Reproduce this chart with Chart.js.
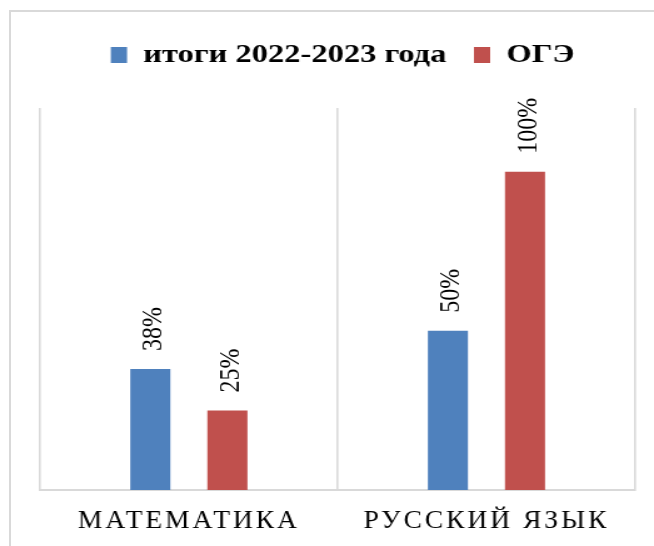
<!DOCTYPE html>
<html>
<head>
<meta charset="utf-8">
<script src="https://cdn.jsdelivr.net/npm/chart.js@4"></script>
<style>
  html, body { margin: 0; padding: 0; background: #fff; overflow: hidden; }
  #wrap { position: relative; width: 654px; height: 546px; }
  #frame { position: absolute; left: 9px; top: 10px; width: 700px; height: 600px; border: 2px solid #d9d9d9; }
  /* el original esta estirado en horizontal (~1.25) */
  #grafico { position: absolute; left: 0; top: 0; width: 654px !important; height: 546px !important; }
</style>
</head>
<body>
<div id="wrap">
  <div id="frame"></div>
  <canvas id="grafico" width="523" height="546"></canvas>
</div>
<script>
// datos del grafico
const categorias = ['МАТЕМАТИКА', 'РУССКИЙ ЯЗЫК'];
const series = ['итоги 2022-2023 года', 'ОГЭ'];
const itogi = [38, 50];
const oge = [25, 100];

const AZUL = '#4F81BD';
const ROJO = '#C0504D';

// etiquetas verticales encima de las barras
const etiquetas = {
    id: 'etiquetas',
    afterDatasetsDraw(chart) {
        const ctx = chart.ctx;
        ctx.save();
        ctx.font = '24px "Liberation Serif"';
        ctx.fillStyle = '#000';
        ctx.textAlign = 'left';
        ctx.textBaseline = 'alphabetic';
        chart.data.datasets.forEach((ds, i) => {
            chart.getDatasetMeta(i).data.forEach((bar, j) => {
                ctx.save();
                ctx.translate(bar.x + 9, bar.y - 18);
                ctx.rotate(-Math.PI / 2);
                ctx.fillText(ds.data[j] + '%', 0, 0);
                ctx.restore();
            });
        });
        ctx.restore();
    }
};

// texto de categorias: letras algo estrechas y espaciadas
const ESTRECHO = 0.88;
function espaciar(scale) {
    const orig = scale.drawLabels;
    scale.drawLabels = function (area) {
        const ctx = this.ctx;
        const fill = ctx.fillText;
        ctx.save();
        ctx.letterSpacing = '2.7px';
        ctx.fillText = function (t, x, y) {
            ctx.save();
            ctx.scale(ESTRECHO, 1);
            fill.call(ctx, t, x / ESTRECHO, y);
            ctx.restore();
        };
        orig.call(this, area);
        delete ctx.fillText;
        ctx.restore();
    };
    scale._espaciado = true;
}

const canvas = document.querySelector('#grafico');
const chart = new Chart(canvas, {
    type: 'bar',
    data: {
        labels: categorias,
        datasets: [
            { label: series[0], data: itogi, backgroundColor: AZUL, borderWidth: 0 },
            { label: series[1], data: oge, backgroundColor: ROJO, borderWidth: 0 }
        ]
    },
    options: {
        responsive: false,
        animation: false,
        devicePixelRatio: 1,
        categoryPercentage: 0.518,
        barPercentage: 0.52,
        layout: { padding: { left: 25, right: 0, top: 20, bottom: 0 } },
        plugins: {
            legend: {
                position: 'top',
                labels: {
                    color: '#000',
                    boxWidth: 13,
                    boxHeight: 16,
                    padding: 22,
                    font: { family: '"Liberation Serif"', size: 26, weight: 'bold' }
                }
            },
            tooltip: { enabled: false }
        },
        scales: {
            x: {
                offset: true,
                grid: { color: '#d9d9d9', lineWidth: 1.6, drawTicks: false },
                border: { color: '#d9d9d9', width: 2 },
                ticks: {
                    color: '#000',
                    padding: 16,
                    font: { family: '"Liberation Serif"', size: 25 }
                },
                afterFit(scale) {
                    scale.height = 56;
                    if (!scale._espaciado) espaciar(scale);
                }
            },
            xTop: {
                type: 'category',
                position: 'top',
                grid: { display: false },
                border: { display: false },
                ticks: { display: false },
                afterFit(scale) { scale.height = 30; }
            },
            y: {
                min: 0,
                max: 120,
                grid: { display: false },
                border: { display: false },
                ticks: { display: false },
                afterFit(scale) { scale.width = 7; }
            },
            yRight: {
                type: 'linear',
                position: 'right',
                grid: { display: false },
                border: { display: false },
                ticks: { display: false },
                afterFit(scale) { scale.width = 15; }
            }
        }
    },
    plugins: [etiquetas]
});
</script>
</body>
</html>
